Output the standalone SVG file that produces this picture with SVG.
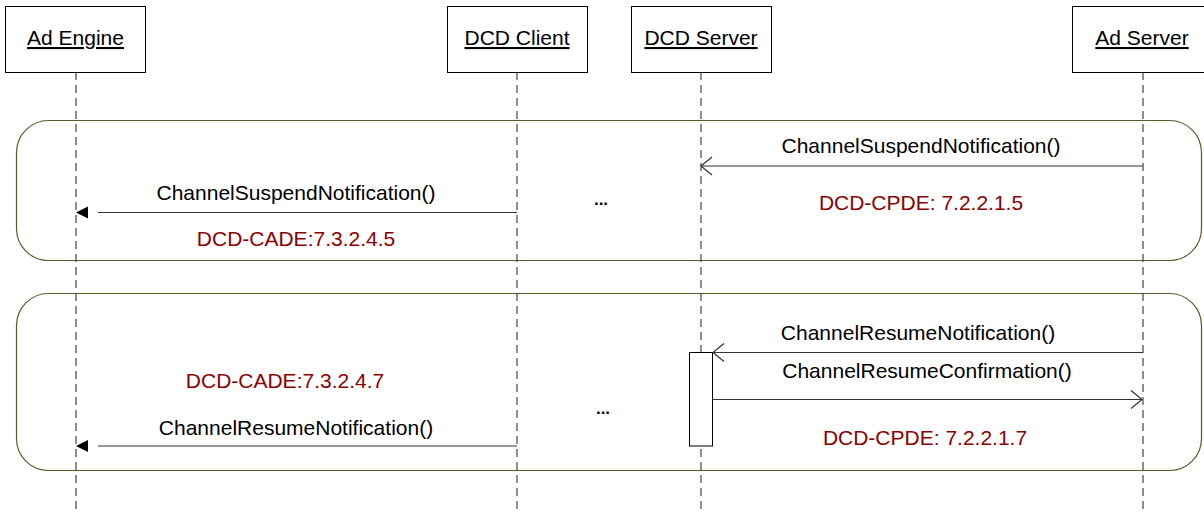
<svg xmlns="http://www.w3.org/2000/svg" width="1204" height="514" viewBox="0 0 1204 514">
<style>
text{font-family:"Liberation Sans",Arial,sans-serif;font-size:21px;fill:#000}
.hdr{text-anchor:middle;text-decoration:underline}
.lbl{text-anchor:middle}
.ref{text-anchor:middle;fill:#8b0000}
.box{fill:#fff;stroke:#000;stroke-width:1}
.life{stroke:#444;stroke-width:1.2;stroke-dasharray:8,5;fill:none}
.frag{fill:none;stroke:#5a5a2a;stroke-width:1.2}
.msg{stroke:#333;stroke-width:1.2;fill:none}
.open{stroke:#333;stroke-width:1.2;fill:none}
.dots{text-anchor:middle;font-size:17px;font-weight:bold}
</style>
<rect width="1204" height="514" fill="#fff"/>
<g id="fragments">
<rect class="frag" x="16.5" y="120.5" width="1185" height="140" rx="32" ry="32"/>
<rect class="frag" x="16.5" y="293.5" width="1185" height="177" rx="32" ry="32"/>
</g>
<g id="lifelines">
<line class="life" x1="76" y1="72" x2="76" y2="514"/>
<line class="life" x1="517" y1="72" x2="517" y2="514"/>
<line class="life" x1="701" y1="72" x2="701" y2="514"/>
<line class="life" x1="1143" y1="72" x2="1143" y2="514"/>
</g>
<g id="ad-engine">
<rect class="box" x="5.5" y="6.5" width="140" height="66"/>
<text class="hdr" x="75.5" y="45">Ad Engine</text>
</g>
<g id="dcd-client">
<rect class="box" x="447.5" y="6.5" width="140" height="66"/>
<text class="hdr" x="517" y="45">DCD Client</text>
</g>
<g id="dcd-server">
<rect class="box" x="631.5" y="6.5" width="140" height="66"/>
<text class="hdr" x="701" y="45">DCD Server</text>
</g>
<g id="ad-server">
<rect class="box" x="1072.5" y="6.5" width="140" height="66"/>
<text class="hdr" x="1142" y="45">Ad Server</text>
</g>
<g id="activation">
<rect class="box" x="689.5" y="352.5" width="23" height="93.5"/>
</g>
<g id="connectors">
<line class="msg" x1="1143" y1="166" x2="702" y2="166"/>
<polyline class="open" points="712,157 701,166 712,175"/>
<line class="msg" x1="517" y1="212.5" x2="98" y2="212.5"/>
<polygon points="76,212.5 88,206.5 88,218.5" fill="#000"/>
<line class="msg" x1="1143" y1="352.5" x2="713" y2="352.5"/>
<polyline class="open" points="724,343.5 713,352.5 724,361.5"/>
<line class="msg" x1="712.5" y1="399.5" x2="1142" y2="399.5"/>
<polyline class="open" points="1131,390.5 1142,399.5 1131,408.5"/>
<line class="msg" x1="517" y1="446" x2="98" y2="446"/>
<polygon points="76,446 88,440 88,452" fill="#000"/>
</g>
<g id="labels">
<text class="lbl" x="921" y="153">ChannelSuspendNotification()</text>
<text class="ref" x="921" y="210">DCD-CPDE: 7.2.2.1.5</text>
<text class="lbl" x="296" y="200">ChannelSuspendNotification()</text>
<text class="ref" x="296" y="246">DCD-CADE:7.3.2.4.5</text>
<text class="dots" x="601" y="205">...</text>
<text class="lbl" x="918" y="340">ChannelResumeNotification()</text>
<text class="lbl" x="927" y="378">ChannelResumeConfirmation()</text>
<text class="ref" x="925" y="445">DCD-CPDE: 7.2.2.1.7</text>
<text class="ref" x="285" y="388">DCD-CADE:7.3.2.4.7</text>
<text class="lbl" x="296" y="435">ChannelResumeNotification()</text>
<text class="dots" x="603" y="414">...</text>
</g>
</svg>
